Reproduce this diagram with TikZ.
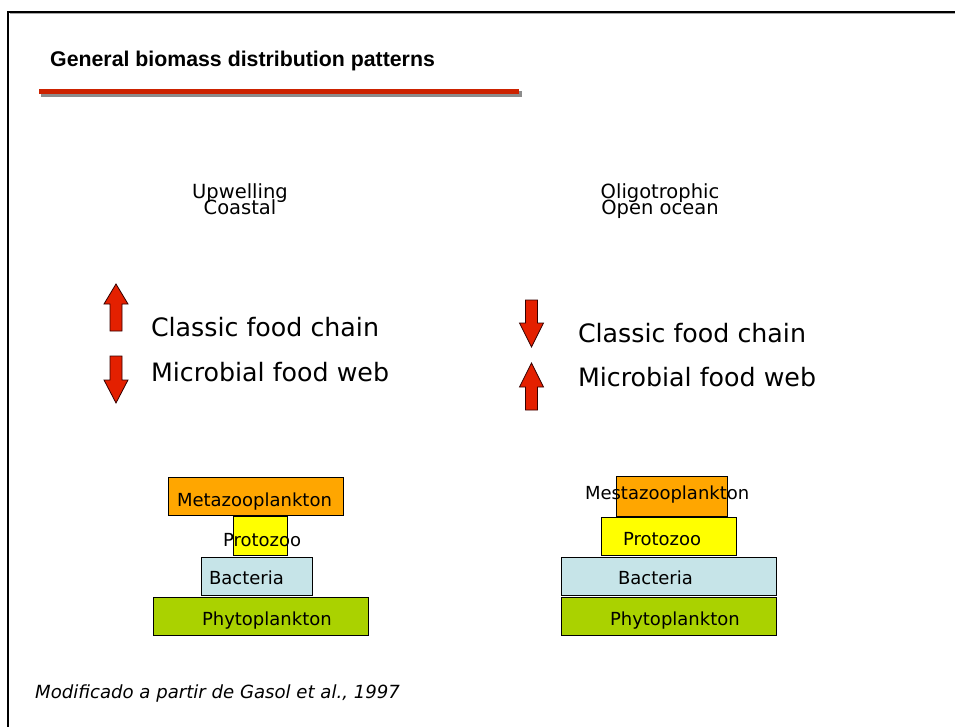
\documentclass[tikz,border=0pt]{standalone}
\usepackage{fontspec}
\setmainfont{DejaVu Sans}
\newfontfamily\titlefont{Liberation Sans}
\newcommand\mytightlines{\lineskiplimit=-20pt\relax\lineskip=0pt\relax}
\definecolor{barred}{RGB}{204,34,0}
\definecolor{arrred}{RGB}{228,32,0}
\definecolor{morange}{RGB}{255,166,0}
\definecolor{pyellow}{RGB}{255,255,0}
\definecolor{bblue}{RGB}{198,228,232}
\definecolor{pgreen}{RGB}{170,210,0}
\tikzset{
  box/.style={draw=black, line width=1pt, inner sep=0pt, outer sep=0pt},
  lab/.style={inner sep=0pt, outer sep=0pt, anchor=base west, font=\fontsize{18}{21}\selectfont},
  big/.style={inner sep=0pt, outer sep=0pt, anchor=base west, font=\fontsize{25.3}{30}\selectfont},
  head/.style={inner sep=0pt, outer sep=0pt, anchor=base, align=center, font=\fontsize{19.5}{16}\selectfont\mytightlines},
  arr/.style={fill=arrred, draw=black!80!red, line width=0.8pt, line join=miter}
}
\begin{document}
\begin{tikzpicture}[x=1pt,y=-1pt]
\useasboundingbox (0,0) rectangle (955,727);
\fill[white] (0,0) rectangle (955,727);
% border
\draw[black!35, line width=1pt] (10,14) -- (955,14);
\draw[black, line width=2.5pt] (8,727) -- (8,12) -- (955,12);
% title
\node[inner sep=0pt, anchor=base west, font=\titlefont\bfseries\fontsize{21.3}{25}\selectfont] (title) at (50,67) {General biomass distribution patterns};
\fill[black!45] (41,91.5) rectangle (522,97);
\fill[barred] (39,89) rectangle (519,94.5);
% column headings
\node[head] (up) at (240,215) {Upwelling\\Coastal};
\node[head] (ol) at (660,215) {Oligotrophic\\Open ocean};
% arrows left
\draw[arr] (116,284) -- (128,304) -- (122,304) -- (122,331) -- (110,331) -- (110,304) -- (104,304) -- cycle;
\draw[arr] (116,403) -- (128,380) -- (122,380) -- (122,356) -- (110,356) -- (110,380) -- (104,380) -- cycle;
% arrows right
\draw[arr] (531.5,347) -- (543.5,323) -- (537.5,323) -- (537.5,300) -- (525.5,300) -- (525.5,323) -- (519.5,323) -- cycle;
\draw[arr] (531.5,363) -- (543.5,387) -- (537.5,387) -- (537.5,410) -- (525.5,410) -- (525.5,387) -- (519.5,387) -- cycle;
% texts
\node[big] (lc) at (151,336) {Classic food chain};
\node[big] (lm) at (151,381) {Microbial food web};
\node[big] (rc) at (578,342) {Classic food chain};
\node[big] (rm) at (578,386) {Microbial food web};
% left pyramid
\node[box, fill=morange, minimum width=175pt, minimum height=38pt] (lmeta) at (255.5,496) {};
\node[box, fill=pyellow, minimum width=54pt, minimum height=39pt] (lproto) at (260,535.5) {};
\node[box, fill=bblue, minimum width=111pt, minimum height=38pt] (lbact) at (256.5,576) {};
\node[box, fill=pgreen, minimum width=215pt, minimum height=38pt] (lphyto) at (260.5,616) {};
\node[lab] (lmetat) at (177,506) {Metazooplankton};
\node[lab] (lprotot) at (223,546) {Protozoo};
\node[lab] (lbactt) at (209,584) {Bacteria};
\node[lab] (lphytot) at (202,625) {Phytoplankton};
% right pyramid
\node[box, fill=morange, minimum width=111pt, minimum height=40pt] (rmeta) at (671.5,496) {};
\node[box, fill=pyellow, minimum width=135pt, minimum height=38pt] (rproto) at (668.5,536) {};
\node[box, fill=bblue, minimum width=215pt, minimum height=38pt] (rbact) at (668.5,576) {};
\node[box, fill=pgreen, minimum width=215pt, minimum height=38pt] (rphyto) at (668.5,616) {};
\node[lab] (rmetat) at (585,499) {Mestazooplankton};
\node[lab] (rprotot) at (623,545) {Protozoo};
\node[lab] (rbactt) at (618,584) {Bacteria};
\node[lab] (rphytot) at (610,625) {Phytoplankton};
% footnote
\node[inner sep=0pt, anchor=base west, font=\itshape\fontsize{18.1}{21}\selectfont] (foot) at (35,698) {Modificado a partir de Gasol et al., 1997};
\end{tikzpicture}
\end{document}
